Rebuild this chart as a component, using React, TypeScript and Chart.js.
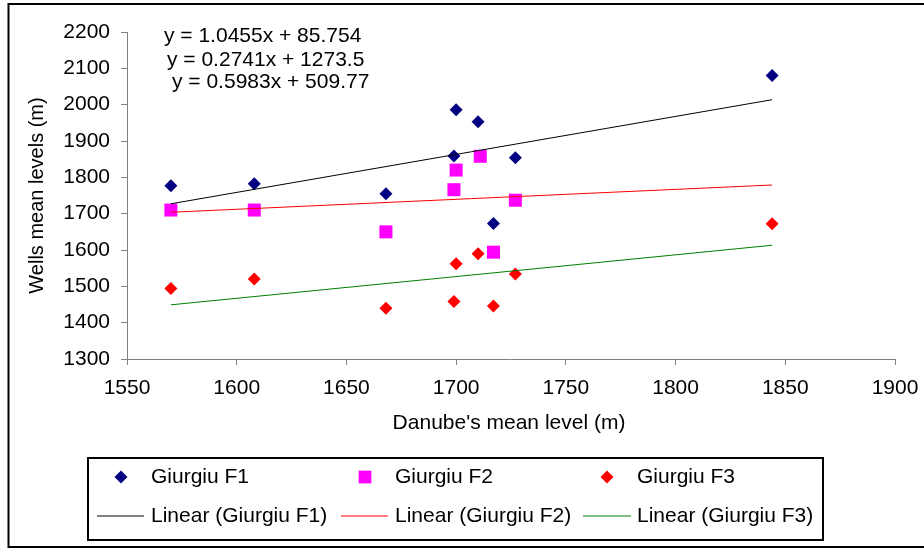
import React, { useEffect, useRef } from 'react';
import { Chart, registerables } from 'chart.js';

Chart.register(...registerables);

// ---------- data ----------
const seriesNames = ['Giurgiu F1', 'Giurgiu F2', 'Giurgiu F3'];

const danubeF1 = [1570, 1608, 1668, 1699, 1700, 1710, 1717, 1727, 1844];
const wellsF1 = [1777, 1782, 1755, 1859, 1986, 1953, 1673, 1854, 2080];

const danubeF2 = [1570, 1608, 1668, 1699, 1700, 1711, 1717, 1727];
const wellsF2 = [1710, 1710, 1650, 1766, 1820, 1858, 1594, 1737];

const danubeF3 = [1570, 1608, 1668, 1699, 1700, 1710, 1717, 1727, 1844];
const wellsF3 = [1494, 1520, 1440, 1458, 1562, 1590, 1446, 1534, 1672];

// trendline equations shown on the chart (y = a x + b)
const trendSlopes = [1.0455, 0.2741, 0.5983];
const trendIntercepts = [85.754, 1273.5, 509.77];
const trendRange = [1570, 1844];

const xMin = 1550;
const xMax = 1900;
const xStep = 50;
const yMin = 1300;
const yMax = 2200;
const yStep = 100;

const xTitle = "Danube's mean level (m)";
const yTitle = 'Wells mean levels (m)';

// ---------- styles ----------
const markerColors = ['#000080', '#FF00FF', '#FF0000'];
const markerStyles = ['rectRot', 'rect', 'rectRot'];
const markerRadii = [6.5, 9.2, 6.5];
const trendColors = ['#000000', '#FF0000', '#008000'];
const FONT = '"Liberation Sans", Arial, sans-serif';

const toPoints = (xs: number[], ys: number[]) => xs.map((x, i) => ({ x, y: ys[i] }));

function drawMarker(ctx: CanvasRenderingContext2D, style: string, x: number, y: number, r: number, color: string) {
  ctx.fillStyle = color;
  ctx.beginPath();
  if (style === 'rect') {
    const s = r * Math.SQRT1_2;
    ctx.rect(x - s, y - s, 2 * s, 2 * s);
  } else {
    ctx.moveTo(x - r, y);
    ctx.lineTo(x, y - r);
    ctx.lineTo(x + r, y);
    ctx.lineTo(x, y + r);
    ctx.closePath();
  }
  ctx.fill();
}

const decorPlugin = {
  id: 'decor',
  beforeDraw(chart: any) {
    const ctx = chart.ctx as CanvasRenderingContext2D;
    ctx.save();
    ctx.fillStyle = '#ffffff';
    ctx.fillRect(0, 0, chart.width, chart.height);
    ctx.restore();
  },
  afterDraw(chart: any) {
    const ctx = chart.ctx as CanvasRenderingContext2D;
    ctx.save();

    // outer frame
    ctx.strokeStyle = '#000';
    ctx.lineWidth = 2;
    ctx.beginPath();
    ctx.moveTo(940, 4);
    ctx.lineTo(8.5, 4);
    ctx.lineTo(8.5, 547);
    ctx.lineTo(940, 547);
    ctx.stroke();

    ctx.fillStyle = '#000';
    ctx.textBaseline = 'middle';

    // regression equations
    ctx.font = `21px ${FONT}`;
    ctx.textAlign = 'left';
    const eqX = [164, 167, 172];
    const eqY = [36, 60, 82];
    trendSlopes.forEach((a, i) => {
      ctx.fillText(`y = ${a}x + ${trendIntercepts[i]}`, eqX[i], eqY[i]);
    });

    // axis titles
    ctx.textAlign = 'center';
    ctx.fillText(xTitle, 509, 423);
    ctx.save();
    ctx.font = `20px ${FONT}`;
    ctx.translate(37, (chart.chartArea.top + chart.chartArea.bottom) / 2);
    ctx.rotate(-Math.PI / 2);
    ctx.fillText(yTitle, 0, 0);
    ctx.restore();

    // legend box
    ctx.strokeStyle = '#000';
    ctx.lineWidth = 2;
    ctx.strokeRect(88, 458, 735, 82);

    const colMarkX = [121, 365, 607];
    const colLineX = [[97, 144], [341, 388], [583, 631]];
    const colTextX = [151, 395, 637];
    const row1 = 477;
    const row2 = 516;
    ctx.font = `21px ${FONT}`;
    ctx.textAlign = 'left';
    seriesNames.forEach((name, i) => {
      drawMarker(ctx, markerStyles[i], colMarkX[i], row1, markerStyles[i] === 'rect' ? 9 : 6.5, markerColors[i]);
      ctx.fillStyle = '#000';
      ctx.fillText(name, colTextX[i], row1);
      ctx.strokeStyle = trendColors[i];
      ctx.lineWidth = 1;
      ctx.beginPath();
      ctx.moveTo(colLineX[i][0], row2);
      ctx.lineTo(colLineX[i][1], row2);
      ctx.stroke();
      ctx.fillText(`Linear (${name})`, colTextX[i], row2);
    });

    ctx.restore();
  },
};

export default function App() {
  const canvasRef = useRef<HTMLCanvasElement | null>(null);

  useEffect(() => {
    document.body.style.margin = '0';
    const canvas = canvasRef.current;
    if (!canvas) return;

    const scatterSets = [
      toPoints(danubeF1, wellsF1),
      toPoints(danubeF2, wellsF2),
      toPoints(danubeF3, wellsF3),
    ].map((data, i) => ({
      type: 'scatter' as const,
      label: seriesNames[i],
      data,
      pointStyle: markerStyles[i],
      pointRadius: markerRadii[i],
      pointBackgroundColor: markerColors[i],
      pointBorderColor: markerColors[i],
      pointBorderWidth: 0,
      showLine: false,
      order: 3 - i,
    }));

    const trendSets = trendSlopes.map((a, i) => ({
      type: 'line' as const,
      label: `Linear (${seriesNames[i]})`,
      data: trendRange.map((x) => ({ x, y: a * x + trendIntercepts[i] })),
      borderColor: trendColors[i],
      borderWidth: 1,
      pointRadius: 0,
      fill: false,
      tension: 0,
      order: 0,
    }));

    const plainLabel = (v: number | string) => String(v);

    const chart = new Chart(canvas, {
      type: 'scatter',
      data: { datasets: [...scatterSets, ...trendSets] as any },
      options: {
        responsive: false,
        animation: false,
        devicePixelRatio: 1,
        events: [],
        layout: { padding: { left: 0, right: 29, top: 32, bottom: 137 } },
        font: { family: FONT, size: 21 },
        plugins: {
          legend: { display: false },
          tooltip: { enabled: false },
          title: { display: false },
        },
        scales: {
          x: {
            type: 'linear',
            min: xMin,
            max: xMax,
            ticks: { stepSize: xStep, color: '#000', padding: 11, font: { family: FONT, size: 21 }, maxRotation: 0, callback: plainLabel },
            grid: { display: true, drawOnChartArea: false, drawTicks: true, tickLength: 6, color: '#808080' },
            border: { display: true, color: '#808080', width: 1 },
            afterFit: (scale: any) => { scale.height = 60; scale.paddingLeft = 0; scale.paddingRight = 0; },
          },
          y: {
            type: 'linear',
            min: yMin,
            max: yMax,
            ticks: { stepSize: yStep, color: '#000', padding: 11, font: { family: FONT, size: 21 }, callback: plainLabel },
            grid: { display: true, drawOnChartArea: false, drawTicks: true, tickLength: 6, color: '#808080' },
            border: { display: true, color: '#808080', width: 1 },
            afterFit: (scale: any) => { scale.width = 127; scale.paddingTop = 0; scale.paddingBottom = 0; },
          },
        },
      } as any,
      plugins: [decorPlugin],
    });

    return () => chart.destroy();
  }, []);

  return (
    <div style={{ width: 924, height: 556, position: 'relative' }}>
      <canvas ref={canvasRef} width={924} height={556} style={{ display: 'block' }} />
    </div>
  );
}
